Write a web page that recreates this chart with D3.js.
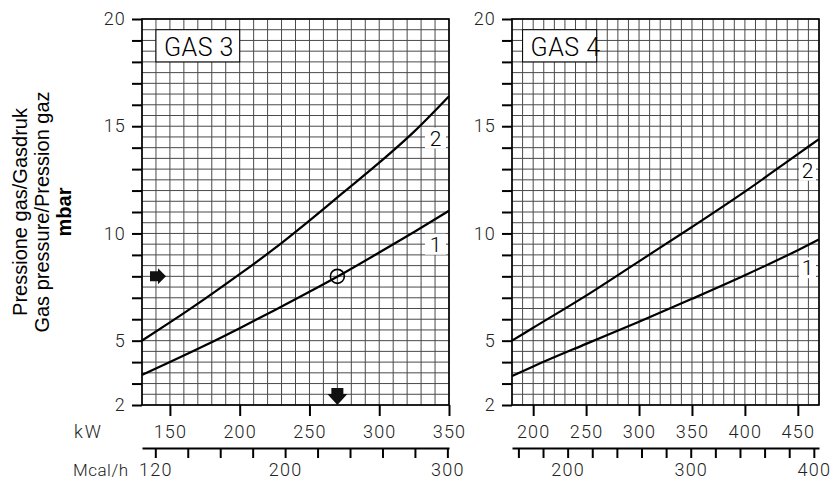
<!DOCTYPE html>
<html><head><meta charset="utf-8">
<script src="https://cdn.jsdelivr.net/npm/d3@7"></script>
<style>body{margin:0;background:#fff} svg{display:block}</style>
</head><body><svg id="c" width="831" height="481"></svg>
<script>
// ---------- data ----------
const yTicks = [2,3,4,5,6,7,8,9,10,11,12,13,14,15,16,17,18,19,20];
const yTickLabels = [2,5,10,15,20];

const gas3Kw     = [130,150,175,200,225,250,275,300,325,350];
const gas3Curve1 = [3.4,4.0,4.77,5.58,6.42,7.28,8.17,9.11,10.07,11.06];
const gas3Curve2 = [5.0,5.85,6.95,8.1,9.3,10.6,11.95,13.3,14.75,16.4];

const gas4Kw     = [180,200,250,300,350,400,450,470];
const gas4Curve1 = [3.35,3.8,4.85,5.88,6.95,8.05,9.22,9.72];
const gas4Curve2 = [5.0,5.6,7.1,8.7,10.3,11.95,13.7,14.4];

const gas3KwTicks   = [150,200,250,300,350];
const gas4KwTicks   = [200,250,300,350,400,450];
const gas3McalTicks = [120,140,160,180,200,220,240,260,280,300];
const gas3McalLabels= [120,200,300];
const gas4McalTicks = [160,180,200,220,240,260,280,300,320,340,360,380,400];
const gas4McalLabels= [200,300,400];

const gas3Domain = [130,350];
const gas4Domain = [180,470];
const gas3Point  = [270, 8];      // kW, mbar (working point)
const mcalPerKw  = 0.86;

const titleLines = ["Pressione gas/Gasdruk","Gas pressure/Pression gaz","mbar"];

// ---------- layout ----------
const svg = d3.select("#c");
const yTop = 19, yBot = 405;
const thin = "Roboto, 'DejaVu Sans', sans-serif";
const y = d3.scaleLinear().domain([2,20]).range([yBot, yTop]);

function panel(cfg){
  const x = d3.scaleLinear().domain(cfg.domain).range([cfg.x0, cfg.x1]);
  const g = svg.append("g");
  // grid
  const grid = g.append("g").attr("stroke","#4a4a4a").attr("stroke-width",1);
  d3.range(cfg.domain[0], cfg.domain[1]+0.01, 10).forEach(v=>{
    grid.append("line").attr("x1",x(v)).attr("x2",x(v)).attr("y1",yTop).attr("y2",yBot);
  });
  d3.range(2, 20.01, 0.5).forEach(v=>{
    grid.append("line").attr("x1",cfg.x0).attr("x2",cfg.x1).attr("y1",y(v)).attr("y2",y(v));
  });
  // frame
  g.append("rect").attr("x",cfg.x0).attr("y",yTop).attr("width",cfg.x1-cfg.x0)
    .attr("height",yBot-yTop).attr("fill","none").attr("stroke","#000").attr("stroke-width",1.6);

  // title box
  g.append("rect").attr("x",x(cfg.boxKw[0])).attr("y",y(19.5))
    .attr("width",x(cfg.boxKw[1])-x(cfg.boxKw[0])).attr("height",y(18)-y(19.5))
    .attr("fill","#fff").attr("stroke","#000").attr("stroke-width",1);
  g.append("text").attr("x",x(cfg.boxKw[0])+8).attr("y",y(18)-6)
    .attr("font-family",thin).attr("font-weight",300).attr("font-size",25).attr("fill","#000")
    .attr("letter-spacing",0.5).text(cfg.title);

  // curves
  const line = d3.line().x(d=>x(d[0])).y(d=>y(d[1])).curve(d3.curveMonotoneX);
  [cfg.c1, cfg.c2].forEach(vals=>{
    g.append("path").datum(cfg.kw.map((k,i)=>[k,vals[i]])).attr("d",line)
      .attr("fill","none").attr("stroke","#000").attr("stroke-width",2.2);
  });
  // curve labels
  cfg.labels.forEach(l=>{
    g.append("rect").attr("x",cfg.x1-cfg.lblW-3).attr("y",y(l.p)-18).attr("width",cfg.lblW)
      .attr("height",21).attr("fill","#fff");
    g.append("text").attr("x",cfg.x1-3-cfg.lblW/2).attr("y",y(l.p)).attr("text-anchor","middle")
      .attr("font-family",thin).attr("font-weight",300).attr("font-size",21).attr("fill","#000").text(l.t);
  });

  // y axis
  const ya = g.append("g").attr("transform",`translate(${cfg.x0},0)`)
    .call(d3.axisLeft(y).tickValues(yTicks).tickSize(10).tickPadding(6)
      .tickFormat(d=>yTickLabels.includes(d)?d:""));
  ya.select(".domain").remove();
  ya.selectAll("line").attr("stroke-width",2);
  ya.selectAll("text").attr("font-family",thin).attr("font-weight",300).attr("font-size",18)
    .attr("letter-spacing",1.2).attr("fill","#222");

  // kW axis
  const xa = g.append("g").attr("transform",`translate(0,${yBot})`)
    .call(d3.axisBottom(x).tickValues(cfg.kwTicks).tickSize(11).tickPadding(9));
  xa.select(".domain").remove();
  xa.selectAll("line").attr("stroke-width",2);
  xa.selectAll("text").attr("font-family",thin).attr("font-weight",300).attr("font-size",18)
    .attr("letter-spacing",1.2).attr("fill","#222");

  // Mcal/h axis
  const xm = d3.scaleLinear().domain(cfg.domain.map(d=>d*mcalPerKw)).range([cfg.x0,cfg.x1]);
  const ma = g.append("g").attr("transform",`translate(0,448)`)
    .call(d3.axisBottom(xm).tickValues(cfg.mTicks).tickSize(10).tickSizeOuter(0).tickPadding(5)
      .tickFormat(d=>cfg.mLabels.includes(d)?d:""));
  ma.select(".domain").attr("stroke-width",2);
  ma.selectAll("line").attr("stroke-width",2);
  ma.selectAll("text").attr("font-family",thin).attr("font-weight",300).attr("font-size",18)
    .attr("letter-spacing",1.2).attr("fill","#222");
  return x;
}

const x3 = panel({x0:142,x1:449,domain:gas3Domain,kw:gas3Kw,c1:gas3Curve1,c2:gas3Curve2,
  title:"GAS 3",boxKw:[140,200],kwTicks:gas3KwTicks,mTicks:gas3McalTicks,mLabels:gas3McalLabels,
  lblW:21,labels:[{t:"2",p:14.1},{t:"1",p:9.15}]});
panel({x0:512,x1:819,domain:gas4Domain,kw:gas4Kw,c1:gas4Curve1,c2:gas4Curve2,
  title:"GAS 4",boxKw:[190,260],kwTicks:gas4KwTicks,mTicks:gas4McalTicks,mLabels:gas4McalLabels,
  lblW:17,labels:[{t:"2",p:12.6},{t:"1",p:8.05}]});

// working point + arrows (GAS 3)
const px = x3(gas3Point[0]), py = y(gas3Point[1]);
svg.append("circle").attr("cx",px).attr("cy",py).attr("r",7)
  .attr("fill","none").attr("stroke","#000").attr("stroke-width",1.6);
const ax = x3(gas3Domain[0]);
svg.append("path").attr("fill","#111")
  .attr("d",`M${ax+8},${py-5}H${ax+16}V${py-8}L${ax+24},${py}L${ax+16},${py+8}V${py+5}H${ax+8}Z`);
const by = y(2);
svg.append("path").attr("fill","#111")
  .attr("d",`M${px-6},${by-17}H${px+6}V${by-11}H${px+10}L${px},${by}L${px-10},${by-11}H${px-6}Z`);

// axis unit labels
svg.append("text").attr("x",74).attr("y",438).attr("font-family",thin).attr("font-weight",300)
  .attr("font-size",18).attr("letter-spacing",2).attr("fill","#222").text("kW");
svg.append("text").attr("x",73).attr("y",476).attr("font-family",thin).attr("font-weight",300)
  .attr("font-size",17).attr("letter-spacing",0.5).attr("fill","#222").text("Mcal/h");

// y title
const tx = [27, 48.5, 71];
titleLines.forEach((t,i)=>{
  svg.append("text").attr("transform",`translate(${tx[i]},212) rotate(-90)`)
    .attr("text-anchor","middle").attr("font-family","'Liberation Sans', Arial, sans-serif")
    .attr("font-size",20).attr("font-weight",i===2?"bold":"normal").attr("fill","#000").text(t);
});
</script></body></html>
